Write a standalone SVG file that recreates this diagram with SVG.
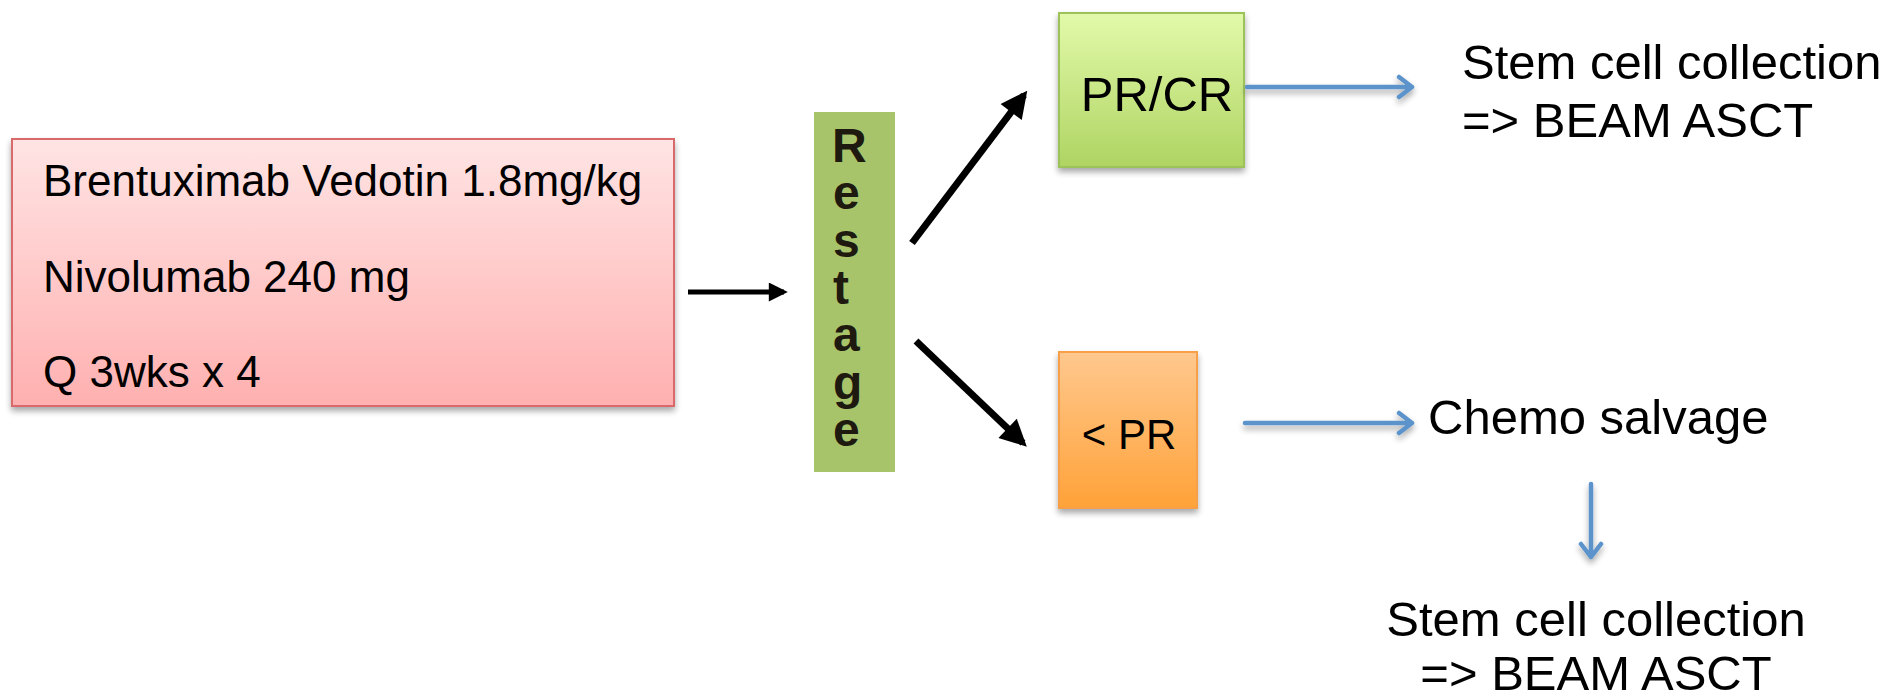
<svg xmlns="http://www.w3.org/2000/svg" width="1894" height="696" viewBox="0 0 1894 696">
<defs>
<linearGradient id="gRed" x1="0" y1="0" x2="0" y2="1"><stop offset="0" stop-color="#FFE4E4"/><stop offset="1" stop-color="#FFB0B0"/></linearGradient>
<linearGradient id="gGreen" x1="0" y1="0" x2="0" y2="1"><stop offset="0" stop-color="#E2FAAA"/><stop offset="1" stop-color="#AFD462"/></linearGradient>
<linearGradient id="gOrange" x1="0" y1="0" x2="0" y2="1"><stop offset="0" stop-color="#FFC88E"/><stop offset="1" stop-color="#FFA238"/></linearGradient>
<filter id="sh" x="-10%" y="-10%" width="120%" height="130%"><feGaussianBlur in="SourceAlpha" stdDeviation="3"/><feOffset dx="0" dy="4"/><feComponentTransfer><feFuncA type="linear" slope="0.35"/></feComponentTransfer><feMerge><feMergeNode/><feMergeNode in="SourceGraphic"/></feMerge></filter>
<marker id="ah" viewBox="0 0 10 10" refX="8" refY="5" markerWidth="4.4" markerHeight="3.8" orient="auto" markerUnits="strokeWidth"><path d="M0,0 L10,5 L0,10 z" fill="#000"/></marker>
</defs>
<style>
text{font-family:"Liberation Sans",Arial,sans-serif;fill:#000}
.t44{font-size:44px}
.t49{font-size:49px}
.rs{font-size:48px;font-weight:bold;fill:#1e1a10}
.blk{stroke:#000;fill:none}
.blu{stroke:#5B93CB;stroke-width:4.5;fill:none;stroke-linecap:round;stroke-linejoin:round}
</style>
<g id="regimen">
<rect x="12" y="139" width="662" height="267" fill="url(#gRed)" stroke="#D9696A" stroke-width="2" filter="url(#sh)"/>
<text class="t44" x="43" y="196">Brentuximab Vedotin 1.8mg/kg</text>
<text class="t44" x="43" y="292">Nivolumab 240 mg</text>
<text class="t44" x="43" y="387">Q 3wks x 4</text>
</g>
<g id="restage">
<rect x="814" y="112" width="81" height="360" fill="#A8C46B"/>
<text class="rs"><tspan x="832" y="162">R</tspan><tspan x="833" y="209">e</tspan><tspan x="833" y="257">s</tspan><tspan x="833" y="304">t</tspan><tspan x="833" y="351">a</tspan><tspan x="833" y="399">g</tspan><tspan x="833" y="446">e</tspan></text>
</g>
<g id="prcr">
<rect x="1059" y="13" width="185" height="154" fill="url(#gGreen)" stroke="#9CC25A" stroke-width="2" filter="url(#sh)"/>
<text class="t49" text-anchor="middle" x="1157" y="111">PR/CR</text>
</g>
<g id="ltpr">
<rect x="1059" y="352" width="138" height="156" fill="url(#gOrange)" stroke="#F7A04A" stroke-width="2" filter="url(#sh)"/>
<text text-anchor="middle" x="1129" y="449" style="font-size:42px">&lt; PR</text>
</g>
<g id="stem1">
<text class="t49" x="1462" y="79">Stem cell collection</text>
<text class="t49" x="1462" y="137">=&gt; BEAM ASCT</text>
</g>
<g id="chemo">
<text class="t49" x="1428" y="434">Chemo salvage</text>
</g>
<g id="stem2">
<text class="t49" text-anchor="middle" x="1596" y="636">Stem cell collection</text>
<text class="t49" text-anchor="middle" x="1596" y="690">=&gt; BEAM ASCT</text>
</g>
<g id="connectors">
<line class="blk" x1="688" y1="292" x2="784" y2="292" stroke-width="5" marker-end="url(#ah)"/>
<line class="blk" x1="912" y1="243" x2="1024" y2="95" stroke-width="7" marker-end="url(#ah)"/>
<line class="blk" x1="916" y1="341" x2="1023" y2="443" stroke-width="7" marker-end="url(#ah)"/>
<g filter="url(#sh)">
<path class="blu" d="M1247,87 H1412 M1399,77 L1412,87 L1399,97"/>
<path class="blu" d="M1245,423 H1412 M1399,413 L1412,423 L1399,433"/>
<path class="blu" d="M1591,484 V557 M1581,544 L1591,557 L1601,544"/>
</g>
</g>
</svg>
